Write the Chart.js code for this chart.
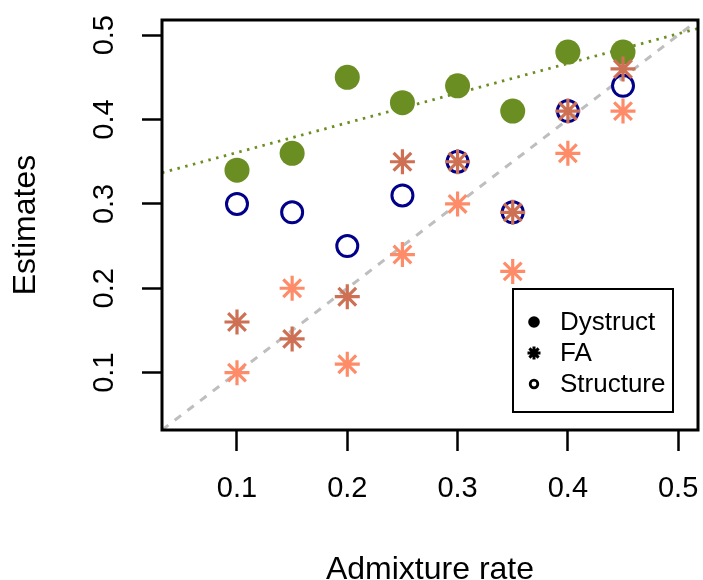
<!DOCTYPE html>
<html><head><meta charset="utf-8">
<script src="https://cdn.jsdelivr.net/npm/chart.js@4/dist/chart.umd.min.js"></script>
<style>html,body{margin:0;padding:0;background:#fff;overflow:hidden;}</style>
</head><body>
<canvas id="c" width="703" height="580"></canvas>
<script>
// ---- data ----
const admixtureRates     = [0.10, 0.15, 0.20, 0.25, 0.30, 0.35, 0.40, 0.45];
const dystructEstimates  = [0.34, 0.36, 0.45, 0.42, 0.44, 0.41, 0.48, 0.48];
const structureEstimates = [0.30, 0.29, 0.25, 0.31, 0.35, 0.29, 0.41, 0.44];
const faEstimatesDark    = [0.16, 0.14, 0.19, 0.35, 0.35, 0.29, 0.41, 0.46];
const faEstimatesLight   = [0.10, 0.20, 0.11, 0.24, 0.30, 0.22, 0.36, 0.41];
const axisTicks  = [0.1, 0.2, 0.3, 0.4, 0.5];
const tickLabels = ['0.1', '0.2', '0.3', '0.4', '0.5'];
const axisRange  = [0.032, 0.518];
const identityLineX = [0.032, 0.518];
const identityLineY = [0.032, 0.518];
const dystructTrendX = [0.032, 0.518];
const dystructTrendY = [0.337, 0.508];
const legendLabels = ['Dystruct', 'FA', 'Structure'];
const xTitle = 'Admixture rate';
const yTitle = 'Estimates';

const FONT = '"Liberation Sans", Arial, Helvetica, sans-serif';
const pts = (xs, ys) => xs.map((x, i) => ({x: x, y: ys[i]}));
const noPad = s => { s.paddingLeft = 0; s.paddingRight = 0; s.paddingTop = 0; s.paddingBottom = 0; };

const boxAndLegend = {
  id: 'boxAndLegend',
  afterDatasetsDraw(chart) {
    const ctx = chart.ctx, a = chart.chartArea;
    ctx.save();
    // R style box
    ctx.strokeStyle = '#000';
    ctx.lineWidth = 3;
    ctx.strokeRect(a.left, a.top, a.right - a.left, a.bottom - a.top);
    // legend box
    const lx = 513, ly = 289, lw = 160, lh = 123;
    ctx.fillStyle = '#fff';
    ctx.fillRect(lx, ly, lw, lh);
    ctx.lineWidth = 2;
    ctx.strokeRect(lx, ly, lw, lh);
    const rows = [322, 353, 384];
    const symX = 534;
    const H = Chart.helpers;
    ctx.fillStyle = '#000'; ctx.strokeStyle = '#000';
    H.drawPoint(ctx, {pointStyle: 'circle', radius: 5.8, borderWidth: 0, rotation: 0}, symX, rows[0]);
    ctx.lineWidth = 3;
    H.drawPoint(ctx, {pointStyle: 'star', radius: 6.5, borderWidth: 3, rotation: 0}, symX, rows[1]);
    ctx.fillStyle = 'rgba(0,0,0,0)';
    ctx.lineWidth = 2.8;
    H.drawPoint(ctx, {pointStyle: 'circle', radius: 3.8, borderWidth: 2.8, rotation: 0}, symX, rows[2]);
    ctx.fillStyle = '#000';
    ctx.font = '26px ' + FONT;
    ctx.textBaseline = 'middle';
    ctx.textAlign = 'left';
    legendLabels.forEach((t, i) => ctx.fillText(t, 560, rows[i] + 1));
    ctx.restore();
  }
};

new Chart(document.getElementById('c'), {
  type: 'scatter',
  data: {
    datasets: [
      {
        label: 'FA', data: pts(admixtureRates, faEstimatesDark), order: 1,
        pointStyle: 'star', pointRadius: 12.5, pointBorderWidth: 3.2,
        borderColor: '#CD7054', backgroundColor: '#CD7054'
      },
      {
        label: 'FA (2)', data: pts(admixtureRates, faEstimatesLight), order: 2,
        pointStyle: 'star', pointRadius: 12.5, pointBorderWidth: 3.2,
        borderColor: '#FF8C69', backgroundColor: '#FF8C69'
      },
      {
        label: 'Structure', data: pts(admixtureRates, structureEstimates), order: 3,
        pointStyle: 'circle', pointRadius: 10.5, pointBorderWidth: 3,
        borderColor: '#00008B', backgroundColor: 'rgba(0,0,0,0)'
      },
      {
        label: 'Dystruct', data: pts(admixtureRates, dystructEstimates), order: 4,
        pointStyle: 'circle', pointRadius: 12.5, pointBorderWidth: 0,
        borderColor: '#6B8E23', backgroundColor: '#6B8E23'
      },
      {
        type: 'line', label: 'trend', data: pts(dystructTrendX, dystructTrendY), order: 5,
        borderColor: '#6B8E23', borderWidth: 2.8, borderDash: [2.5, 5.5], pointRadius: 0, fill: false
      },
      {
        type: 'line', label: 'identity', data: pts(identityLineX, identityLineY), order: 6,
        borderColor: '#BEBEBE', borderWidth: 3, borderDash: [8, 8], pointRadius: 0, fill: false
      }
    ]
  },
  options: {
    responsive: false,
    devicePixelRatio: 1,
    animation: false,
    layout: {autoPadding: false, padding: {left: 0, top: 20, right: 5, bottom: 0}},
    plugins: {legend: {display: false}, tooltip: {enabled: false}},
    scales: {
      x: {
        type: 'linear', min: axisRange[0], max: axisRange[1],
        afterBuildTicks: s => { s.ticks = axisTicks.map(v => ({value: v})); },
        afterFit: s => { s.height = 150; noPad(s); },
        grid: {display: true, drawOnChartArea: false, drawTicks: true, tickLength: 21, tickWidth: 2.5, tickColor: '#000'},
        border: {display: false},
        ticks: {
          color: '#000', font: {family: FONT, size: 29}, padding: 21,
          maxRotation: 0, minRotation: 0, autoSkip: false,
          callback: (v, i) => tickLabels[i]
        },
        title: {display: true, text: xTitle, color: '#000', font: {family: FONT, size: 32, lineHeight: 0.8}, padding: {top: 0, bottom: -3}}
      },
      y: {
        type: 'linear', min: axisRange[0], max: axisRange[1],
        afterBuildTicks: s => { s.ticks = axisTicks.map(v => ({value: v})); },
        afterFit: s => { s.width = 162; noPad(s); },
        grid: {display: true, drawOnChartArea: false, drawTicks: true, tickLength: 20, tickWidth: 2.5, tickColor: '#000'},
        border: {display: false},
        ticks: {
          color: '#000', font: {family: FONT, size: 29}, padding: 17,
          minRotation: 90, maxRotation: 90, crossAlign: 'center', autoSkip: false,
          callback: (v, i) => tickLabels[i]
        },
        title: {display: true, text: yTitle, color: '#000', font: {family: FONT, size: 32, lineHeight: 0.8}, padding: {top: 13, bottom: 0}}
      }
    }
  },
  plugins: [boxAndLegend]
});
</script>
</body></html>
